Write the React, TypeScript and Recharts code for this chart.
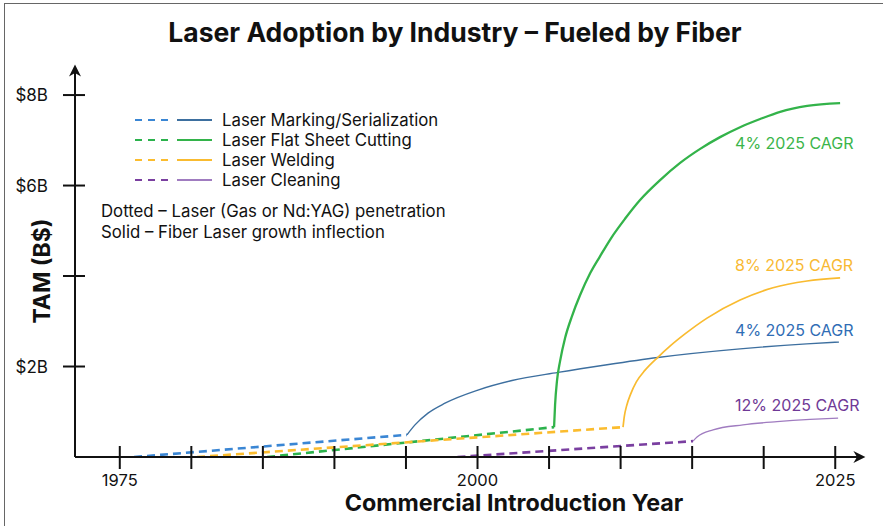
import { LineChart, Line, XAxis, YAxis, ReferenceDot } from 'recharts';

// year / TAM ($B)
const markingDashed = [
  { year: 1976.0, v: 0 },
  { year: 1995.07, v: 0.49 },
];
const markingSolid = [
  { year: 1995.07, v: 0.49 },
  { year: 1995.63, v: 0.71 },
  { year: 1996.54, v: 0.97 },
  { year: 1997.73, v: 1.19 },
  { year: 2000.03, v: 1.48 },
  { year: 2002.41, v: 1.69 },
  { year: 2005.63, v: 1.87 },
  { year: 2009.05, v: 2.04 },
  { year: 2012.6, v: 2.2 },
  { year: 2018.35, v: 2.39 },
  { year: 2023.0, v: 2.5 },
  { year: 2025.26, v: 2.54 },
];
const cuttingDashed = [
  { year: 1985.3, v: 0 },
  { year: 2005.35, v: 0.66 },
];
const cuttingSolid = [
  { year: 2005.35, v: 0.66 },
  { year: 2005.42, v: 1.15 },
  { year: 2005.56, v: 1.7 },
  { year: 2005.77, v: 2.12 },
  { year: 2006.12, v: 2.63 },
  { year: 2006.61, v: 3.12 },
  { year: 2007.17, v: 3.58 },
  { year: 2007.87, v: 4.06 },
  { year: 2008.57, v: 4.44 },
  { year: 2009.34, v: 4.84 },
  { year: 2010.32, v: 5.27 },
  { year: 2011.36, v: 5.68 },
  { year: 2012.76, v: 6.12 },
  { year: 2014.16, v: 6.5 },
  { year: 2015.56, v: 6.81 },
  { year: 2016.95, v: 7.07 },
  { year: 2018.35, v: 7.29 },
  { year: 2019.75, v: 7.47 },
  { year: 2021.15, v: 7.63 },
  { year: 2023.04, v: 7.76 },
  { year: 2025.34, v: 7.82 },
];
const weldingDashed = [
  { year: 1980.4, v: 0 },
  { year: 2010.17, v: 0.66 },
];
const weldingSolid = [
  { year: 2010.17, v: 0.66 },
  { year: 2010.26, v: 0.9 },
  { year: 2010.42, v: 1.13 },
  { year: 2010.7, v: 1.39 },
  { year: 2011.1, v: 1.66 },
  { year: 2011.71, v: 1.92 },
  { year: 2012.62, v: 2.21 },
  { year: 2013.45, v: 2.45 },
  { year: 2014.5, v: 2.72 },
  { year: 2016.04, v: 3.07 },
  { year: 2018.35, v: 3.47 },
  { year: 2020.65, v: 3.74 },
  { year: 2023.03, v: 3.89 },
  { year: 2025.34, v: 3.96 },
];
const cleaningDashed = [
  { year: 1998.6, v: 0 },
  { year: 2015.06, v: 0.35 },
];
const cleaningSolid = [
  { year: 2015.06, v: 0.35 },
  { year: 2015.34, v: 0.44 },
  { year: 2016.46, v: 0.6 },
  { year: 2018.55, v: 0.71 },
  { year: 2020.93, v: 0.78 },
  { year: 2023.24, v: 0.83 },
  { year: 2025.2, v: 0.86 },
];

const X_TICKS = [1975, 1980, 1985, 1990, 1995, 2000, 2005, 2010, 2015, 2020, 2025];
const X_LABELED = [1975, 2000, 2025];
const Y_TICKS = [2, 4, 6, 8];
const Y_LABELS: Record<number, string> = { 2: '$2B', 6: '$6B', 8: '$8B' };

const SERIES = [
  { name: 'Laser Marking/Serialization', dashed: markingDashed, solid: markingSolid, dashColor: '#3a86d4', solidColor: '#3d6f9f', solidWidth: 1.4 },
  { name: 'Laser Flat Sheet Cutting', dashed: cuttingDashed, solid: cuttingSolid, dashColor: '#2bb24c', solidColor: '#33b34a', solidWidth: 2.3 },
  { name: 'Laser Welding', dashed: weldingDashed, solid: weldingSolid, dashColor: '#fbbc2e', solidColor: '#f9bb30', solidWidth: 1.7 },
  { name: 'Laser Cleaning', dashed: cleaningDashed, solid: cleaningSolid, dashColor: '#7a3fa0', solidColor: '#a07cc0', solidWidth: 1.3 },
];

const CAGR_LABELS = [
  { text: '4% 2025 CAGR', year: 2018.0, v: 6.94, color: '#3bb54a' },
  { text: '8% 2025 CAGR', year: 2018.0, v: 4.24, color: '#f8b933' },
  { text: '4% 2025 CAGR', year: 2018.0, v: 2.81, color: '#2f6db5' },
  { text: '12% 2025 CAGR', year: 2018.0, v: 1.15, color: '#6f3996' },
];

const FONT = 'Inter, "Noto Sans", sans-serif';

const XTick = (props: any) => {
  const { x, y, payload } = props;
  return (
    <g>
      <line x1={x} x2={x} y1={y - 11} y2={y + 12} stroke="#111" strokeWidth={2} />
      {X_LABELED.includes(payload.value) && (
        <text x={x} y={y + 29} textAnchor="middle" fontSize={16.5} fill="#111" fontFamily={FONT}>
          {payload.value}
        </text>
      )}
    </g>
  );
};

const YTick = (props: any) => {
  const { x, y, payload } = props;
  return (
    <g>
      <line x1={x - 12} x2={x + 10} y1={y} y2={y} stroke="#111" strokeWidth={2} />
      {Y_LABELS[payload.value] && (
        <text x={x - 27} y={y + 6} textAnchor="end" fontSize={17} fill="#111" fontFamily={FONT}>
          {Y_LABELS[payload.value]}
        </text>
      )}
    </g>
  );
};

const LegendBox = () => (
  <div style={{ position: 'absolute', left: 101, top: 110, fontFamily: FONT, fontSize: 16.8, color: '#111', lineHeight: '20px', whiteSpace: 'nowrap' }}>
    {SERIES.map((s) => (
      <div key={s.name} style={{ display: 'flex', alignItems: 'center', marginLeft: 34 }}>
        <svg width={87} height={20}>
          <line x1={0} x2={38} y1={10} y2={10} stroke={s.dashColor} strokeWidth={2} strokeDasharray="7 6" />
          <line x1={42} x2={77} y1={10} y2={10} stroke={s.solidColor} strokeWidth={2} />
        </svg>
        <span>{s.name}</span>
      </div>
    ))}
    <div style={{ marginTop: 11 }}>Dotted – Laser (Gas or Nd:YAG) penetration</div>
    <div style={{ marginTop: 1 }}>Solid – Fiber Laser growth inflection</div>
  </div>
);

export default function App() {
  return (
    <div style={{ position: 'absolute', left: 0, top: 0, width: 883, height: 526, background: '#fff', overflow: 'hidden' }}>
      <svg width={0} height={0} style={{ position: 'absolute' }}>
        <defs>
          <marker id="arrowHead" viewBox="0 0 10 10" refX={8} refY={5} markerWidth={6.5} markerHeight={6} orient="auto-start-reverse">
            <path d="M0,0 L10,5 L0,10 L3,5 z" fill="#111" />
          </marker>
        </defs>
      </svg>
      <div style={{ position: 'absolute', left: 4, top: 3, right: -2, bottom: -2, borderTop: '1.5px solid #666', borderLeft: '1.5px solid #666' }} />
      <div style={{ position: 'absolute', left: 455, top: 32, transform: 'translate(-50%, -50%)', whiteSpace: 'nowrap', fontFamily: FONT, fontWeight: 700, fontSize: 26.5, color: '#111' }}>
        Laser Adoption by Industry – Fueled by Fiber
      </div>
      <div style={{ position: 'absolute', left: 42, top: 271, transform: 'translate(-50%, -50%) rotate(-90deg)', whiteSpace: 'nowrap', fontFamily: FONT, fontWeight: 700, fontSize: 23, color: '#111' }}>
        TAM (B$)
      </div>
      <div style={{ position: 'absolute', left: 514, top: 503, transform: 'translate(-50%, -50%)', whiteSpace: 'nowrap', fontFamily: FONT, fontWeight: 700, fontSize: 23.3, lineHeight: 1, color: '#111' }}>
        Commercial Introduction Year
      </div>
      <div style={{ position: 'absolute', left: 0, top: 0 }}>
        <LineChart width={883} height={526} margin={{ top: 67, right: 20, bottom: 39, left: 15 }}>
          <XAxis
            dataKey="year"
            type="number"
            domain={[1971.87, 2026.94]}
            ticks={X_TICKS}
            interval={0}
            allowDataOverflow
            tickSize={0}
            tickMargin={0}
            tickLine={false}
            tick={<XTick />}
            height={30}
            axisLine={{ stroke: '#111', strokeWidth: 2, markerEnd: 'url(#arrowHead)' }}
          />
          <YAxis
            type="number"
            domain={[0, 8.62]}
            ticks={Y_TICKS}
            interval={0}
            allowDataOverflow
            tickSize={0}
            tickMargin={0}
            tickLine={false}
            tick={<YTick />}
            width={60}
            axisLine={{ stroke: '#111', strokeWidth: 2, markerStart: 'url(#arrowHead)' }}
          />
          {SERIES.map((s) => (
            <Line
              key={s.name + '-d'}
              data={s.dashed}
              dataKey="v"
              name={s.name}
              type="linear"
              stroke={s.dashColor}
              strokeWidth={2.6}
              strokeDasharray="8 5"
              dot={false}
              activeDot={false}
              isAnimationActive={false}
            />
          ))}
          {SERIES.map((s) => (
            <Line
              key={s.name + '-s'}
              data={s.solid}
              dataKey="v"
              name={s.name + ' (fiber)'}
              type="monotone"
              stroke={s.solidColor}
              strokeWidth={s.solidWidth}
              dot={false}
              activeDot={false}
              isAnimationActive={false}
            />
          ))}
          {CAGR_LABELS.map((a, i) => (
            <ReferenceDot
              key={i}
              x={a.year}
              y={a.v}
              r={0}
              fill="none"
              stroke="none"
              label={{ value: a.text, position: 'right', offset: 0, fill: a.color, fontSize: 16, fontFamily: FONT }}
            />
          ))}
        </LineChart>
      </div>
      <LegendBox />
    </div>
  );
}
